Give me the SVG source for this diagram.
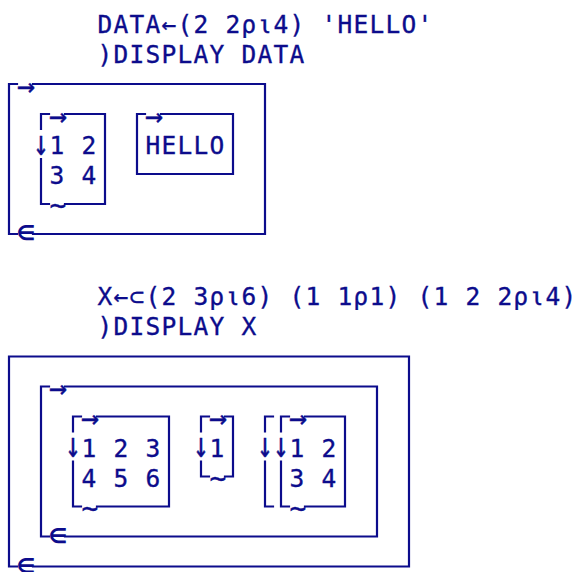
<svg xmlns="http://www.w3.org/2000/svg" width="577" height="572" viewBox="0 0 577 572">
<style>
  .t { font-family: "DejaVu Sans Mono", "Liberation Mono", monospace; font-size: 24.5px; fill: #0c0c8c; stroke: #0c0c8c; stroke-width: 0.35; text-anchor: middle; }
  .ar { font-size: 30px; }
  .ep { font-size: 33px; stroke: none; }
  .tl { font-size: 28px; }
  .b { fill: none; stroke: #0c0c8c; stroke-width: 2.2; stroke-linecap: square; }
</style>
<rect width="577" height="572" fill="#ffffff"/>

<g id="session1">
  <g id="cmd1">
    <text class="t" x="105 121 137 153 169 185 201 217 233 249 265 281 297 313 329 345 361 377 393 409 425" y="32.5">DATA←(2 2⍴⍳4) 'HELLO'</text>
    <text class="t" x="105 121 137 153 169 185 201 217 233 249 265 281 297" y="63">)DISPLAY DATA</text>
  </g>
  <g id="data-outer">
    <path class="b" d="M17 84H9V234H17 M33 234H265V84H33"/>
    <text class="t ar" x="26" y="95.5">→</text>
    <text class="t ep" x="26" y="243">∊</text>
  </g>
  <g id="data-matrix">
    <path class="b" d="M49 114H41V129 M41 159V204H49 M65 204H105V114H65"/>
    <text class="t ar" x="58" y="125.5">→</text>
    <text class="t" transform="translate(41 154.5) scale(1.05 1.45)" x="0" y="0">↓</text>
    <text class="t" x="57 73 89" y="154">1 2</text>
    <text class="t" x="57 73 89" y="184">3 4</text>
    <text class="t tl" x="58" y="215">~</text>
  </g>
  <g id="data-hello">
    <path class="b" d="M145 114H137V174H233V114H161"/>
    <text class="t ar" x="154" y="125.5">→</text>
    <text class="t" x="153 169 185 201 217" y="154">HELLO</text>
  </g>
</g>

<g id="session2">
  <g id="cmd2">
    <text class="t" x="105 121 137 153 169 185 201 217 233 249 265 281 297 313 329 345 361 377 393 409 425 441 457 473 489 505 521 537 553 569" y="305">X←⊂(2 3⍴⍳6) (1 1⍴1) (1 2 2⍴⍳4)</text>
    <text class="t" x="105 121 137 153 169 185 201 217 233 249" y="335">)DISPLAY X</text>
  </g>
  <g id="x-outer">
    <path class="b" d="M33 566.5H409V356.5H9V566.5H17"/>
    <text class="t ep" x="26" y="575.5">∊</text>
  </g>
  <g id="x-vector">
    <path class="b" d="M49 386.5H41V536.5H49 M65 536.5H377V386.5H65"/>
    <text class="t ar" x="58" y="398">→</text>
    <text class="t ep" x="58" y="545.5">∊</text>
  </g>
  <g id="x-matrix23">
    <path class="b" d="M81 416.5H73V431.5 M73 461.5V506.5H81 M97 506.5H169V416.5H97"/>
    <text class="t ar" x="90" y="428">→</text>
    <text class="t" transform="translate(73 457) scale(1.05 1.45)" x="0" y="0">↓</text>
    <text class="t" x="89 105 121 137 153" y="456.5">1 2 3</text>
    <text class="t" x="89 105 121 137 153" y="486.5">4 5 6</text>
    <text class="t tl" x="90" y="517.5">~</text>
  </g>
  <g id="x-matrix11">
    <path class="b" d="M209 416.5H201V431.5 M201 461.5V476.5H209 M225 476.5H233V416.5H225"/>
    <text class="t ar" x="218" y="428">→</text>
    <text class="t" transform="translate(201 457) scale(1.05 1.45)" x="0" y="0">↓</text>
    <text class="t" x="217" y="456.5">1</text>
    <text class="t tl" x="218" y="487.5">~</text>
  </g>
  <g id="x-array122">
    <path class="b" d="M273 416.5H265V431.5 M265 461.5V506.5H273"/>
    <path class="b" d="M289 416.5H281V431.5 M281 461.5V506.5H289 M305 506.5H345V416.5H305"/>
    <text class="t" transform="translate(265 457) scale(1.05 1.45)" x="0" y="0">↓</text>
    <text class="t" transform="translate(281 457) scale(1.05 1.45)" x="0" y="0">↓</text>
    <text class="t ar" x="298" y="428">→</text>
    <text class="t" x="297 313 329" y="456.5">1 2</text>
    <text class="t" x="297 313 329" y="486.5">3 4</text>
    <text class="t tl" x="298" y="517.5">~</text>
  </g>
</g>
</svg>
